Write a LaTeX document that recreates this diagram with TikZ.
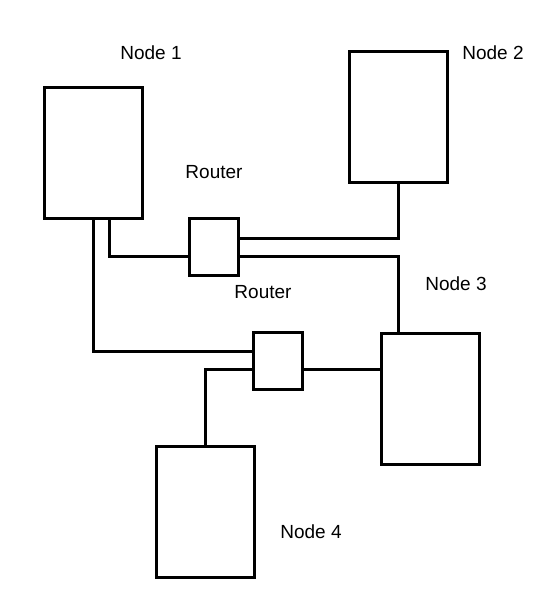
\documentclass[tikz,border=0pt]{standalone}
\usepackage{fontspec}
\setmainfont{Liberation Sans}
\usetikzlibrary{positioning, calc}

\begin{document}
\begin{tikzpicture}[x=1pt, y=-1pt,
			host/.style = {rectangle, draw, line width = 3pt, minimum width = 98pt, minimum height = 131pt, inner sep = 0pt},
			router/.style = {rectangle, draw, line width = 3pt, minimum width = 49pt, minimum height = 57pt, inner sep = 0pt},
			label/.style = {font = \fontsize{19}{22}\selectfont, inner sep = 0pt},
			link/.style = {line width = 3pt, line join = miter},
		]
		\useasboundingbox (0,0) rectangle (549,606);

		\node[host](N1) at (93,152.5){};
		\node[host](N2) at (398,116.5){};
		\node[host](N3) at (430,398.5){};
		\node[host](N4) at (205.5,512){};
		\node[router](R1) at (213.5,247){};
		\node[router](R2) at (277.5,360.5){};

		\node[label](L1) at (151,53){Node 1};
		\node[label](L2) at (493,53){Node 2};
		\node[label](L3) at (456,284){Node 3};
		\node[label](L4) at (311,532){Node 4};
		\node[label](LR1) at (214,172){Router};
		\node[label](LR2) at (263,292){Router};

		\draw[link](N1.south)|-([yshift=9pt]R2.west);
		\draw[link]([xshift=16pt]N1.south)|-([yshift=-9pt]R1.west);
		\draw[link]([yshift=9pt]R1.east)-|(N2.south);
		\draw[link]([yshift=-9pt]R1.east)-|([xshift=-32pt]N3.north);
		\draw[link](N4.north)|-([yshift=-9pt]R2.west);
		\draw[link]([yshift=-9pt]R2.east)--([yshift=-9pt]R2.east -| N3.west);

	\end{tikzpicture}
\end{document}
